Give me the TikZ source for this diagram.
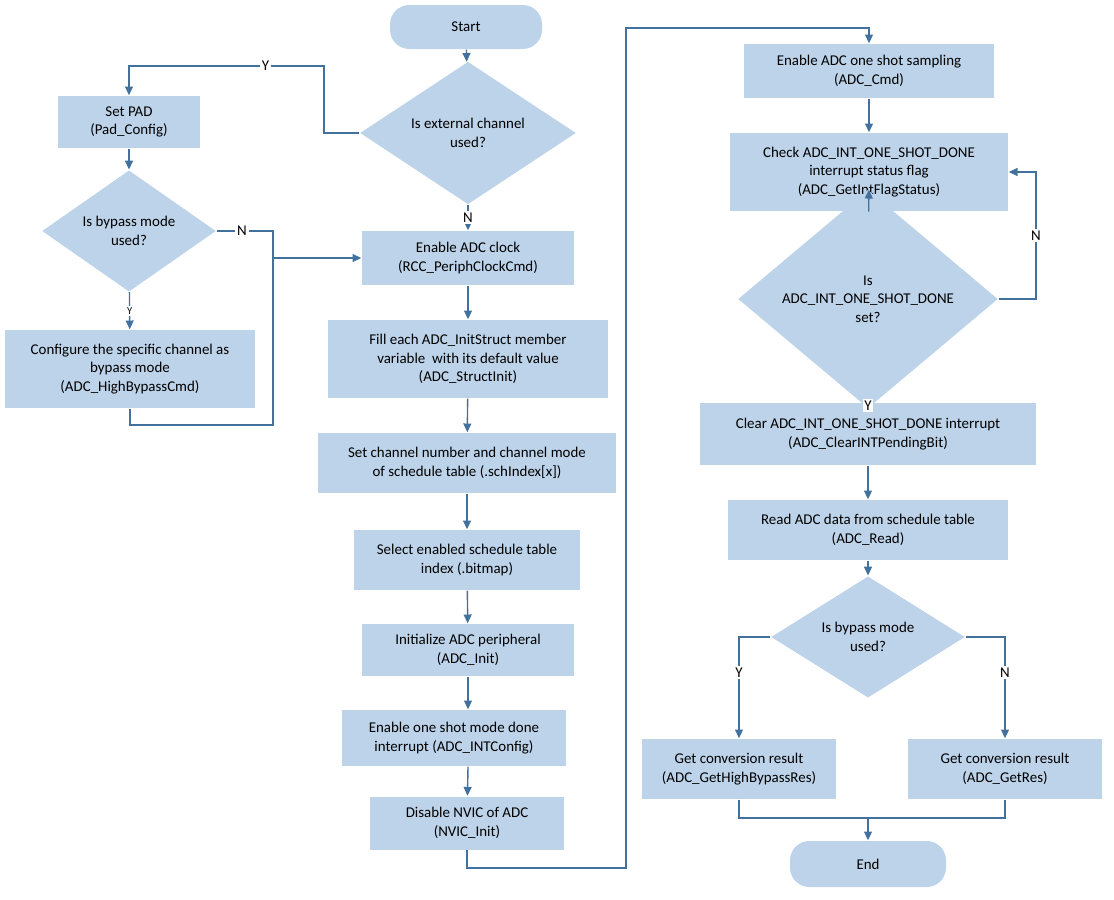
\documentclass[tikz,border=0pt]{standalone}
\usepackage{fontspec}
\setmainfont{Carlito}
\usetikzlibrary{arrows.meta,positioning,shapes.geometric}
\definecolor{boxfill}{HTML}{BDD3EA}
\definecolor{linecol}{HTML}{41719C}
\tikzset{
    every picture/.style = {
        > = {Triangle[length=5pt,width=4.5pt]},
        line width = 0.8pt
    },
    box/.style 2 args = {
        rectangle, fill = boxfill, draw = none,
        minimum width = #1*0.02cm, minimum height = #2*0.02cm,
        align = center, inner sep = 1pt
    },
    term/.style 2 args = {
        box = {#1}{#2}, rounded corners = 11pt
    },
    dec/.style 2 args = {
        diamond, fill = boxfill, draw = none, inner sep = 0pt,
        minimum width = #1*0.02cm, minimum height = #2*0.02cm,
        align = center
    },
    flow/.style = {draw = linecol, ->},
    wire/.style = {draw = linecol},
    lbl/.style = {font = \fontsize{8.5}{10}\selectfont, fill = white, inner sep = 1pt}
}
\begin{document}
\begin{tikzpicture}[x = 0.02cm, y = -0.02cm, font = \fontsize{8.5}{10.5}\selectfont]
    \useasboundingbox (0,0) rectangle (1114,899);
    % left column
    \node[term = {152}{44}] (start) at (466,27) {Start};
    \node[dec = {216}{104}] (ext) at (468,133) {Is external channel\\used?};
    \node[box = {142}{52}] (pad) at (129,122) {Set PAD\\(Pad\_Config)};
    \node[dec = {174}{90}] (byp) at (129,231) {Is bypass mode\\used?};
    \node[box = {250}{78}] (conf) at (130,369) {Configure the specific channel as\\bypass mode\\(ADC\_HighBypassCmd)};
    % middle column
    \node[box = {212}{54}] (clk) at (468,258) {Enable ADC clock\\(RCC\_PeriphClockCmd)};
    \node[box = {280}{78}] (fill) at (468,359) {Fill each ADC\_InitStruct member\\variable\ \ with its default value\\(ADC\_StructInit)};
    \node[box = {298}{60}] (sch) at (467,463) {Set channel number and channel mode\\of schedule table (.schIndex[x])};
    \node[box = {226}{60}] (bit) at (467,560) {Select enabled schedule table\\index (.bitmap)};
    \node[box = {212}{52}] (init) at (468,650) {Initialize ADC peripheral\\(ADC\_Init)};
    \node[box = {224}{56}] (intc) at (454,738) {Enable one shot mode done\\interrupt (ADC\_INTConfig)};
    \node[box = {194}{53}] (nvic) at (467,823) {Disable NVIC of ADC\\(NVIC\_Init)};
    % right column
    \node[box = {250}{54}] (cmd) at (869,71) {Enable ADC one shot sampling\\(ADC\_Cmd)};
    \node[box = {278}{78}] (chk) at (869,172) {Check ADC\_INT\_ONE\_SHOT\_DONE\\interrupt status flag\\(ADC\_GetIntFlagStatus)};
    \node[dec = {260}{104}] (done) at (868,299) {Is\\ADC\_INT\_ONE\_SHOT\_DONE\\set?};
    \node[box = {336}{62}] (clr) at (868,434) {Clear ADC\_INT\_ONE\_SHOT\_DONE interrupt\\(ADC\_ClearINTPendingBit)};
    \node[box = {280}{60}] (rd) at (868,530) {Read ADC data from schedule table\\(ADC\_Read)};
    \node[dec = {194}{64}] (byp2) at (868,637) {Is bypass mode\\used?};
    \node[box = {194}{60}] (hres) at (739,769) {Get conversion result\\(ADC\_GetHighBypassRes)};
    \node[box = {194}{60}] (res) at (1005,769) {Get conversion result\\(ADC\_GetRes)};
    \node[term = {156}{46}] (end) at (868,864) {End};
    % connectors
    \path[flow] (start) -- (ext);
    \path[flow] (ext.west) -- (324,133) -- (324,66) -- node[lbl, pos = 0.3] {Y} (129,66) -- (pad);
    \path[flow] (ext) -- node[lbl, pos = 0.5] {N} (clk);
    \path[flow] (pad) -- (byp);
    \path[flow] (byp) -- node[lbl, font = \fontsize{6}{7}\selectfont] {Y} (conf);
    \path[wire] (byp.east) -- node[lbl, pos = 0.45] {N} (273,231) -- (273,258);
    \path[flow] (273,258) -- (clk.west);
    \path[wire] (conf.south) -- (130,425) -- (273,425) -- (273,258);
    \path[flow] (clk) -- (fill);
    \path[flow] (fill) -- (sch);
    \path[flow] (sch) -- (bit);
    \path[flow] (bit) -- (init);
    \path[flow] (init) -- (init |- intc.north);
    \path[flow] (init |- intc.south) -- (nvic);
    \path[flow] (nvic.south) -- (467,868) -- (626,868) -- (626,28) -- (869,28) -- (cmd);
    \path[flow] (cmd) -- (chk);
    \path[flow] (chk) -- (done);
    \path[flow] (done.east) -- (1036,299) -- node[lbl] {N} (1036,172) -- (chk.east);
    \path[flow] (done) -- node[lbl] {Y} (clr);
    \path[flow] (clr) -- (rd);
    \path[flow] (rd) -- (byp2);
    \path[flow] (byp2.west) -- (739,637) -- node[lbl, pos = 0.35] {Y} (hres);
    \path[flow] (byp2.east) -- (1005,637) -- node[lbl, pos = 0.35] {N} (res);
    \path[wire] (hres.south) -- (739,818) -- (1005,818) -- (res.south);
    \path[flow] (868,818) -- (end);
\end{tikzpicture}
\end{document}
